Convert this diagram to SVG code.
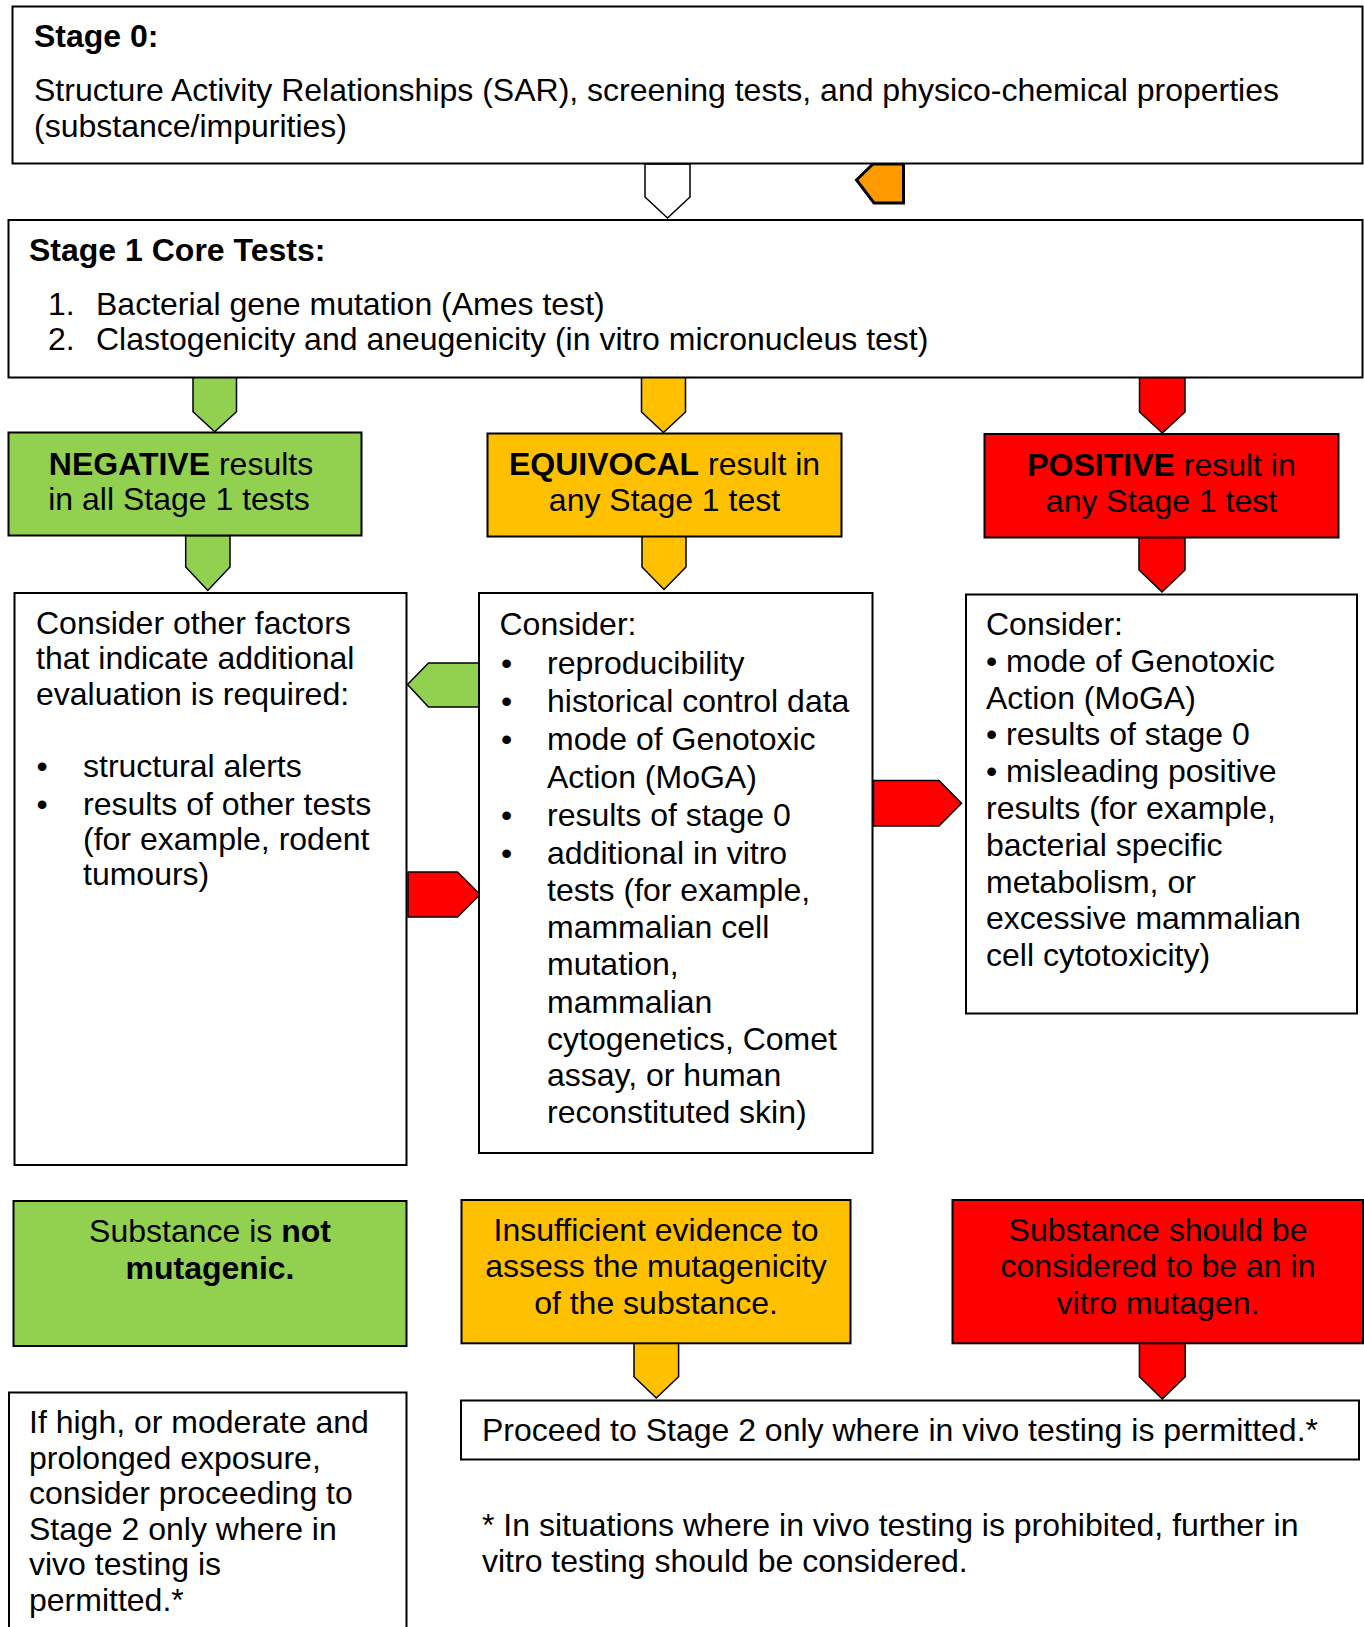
<svg xmlns="http://www.w3.org/2000/svg" width="1364" height="1627" viewBox="0 0 1364 1627">
<style>
.box{stroke:#000;stroke-width:2}
.w{fill:#fff}
.g{fill:#92D050}
.y{fill:#FFC000}
.r{fill:#FF0000}
.o{fill:#FF9900}
.arr{stroke:#000;stroke-width:1.5;stroke-linejoin:miter}
text{font-family:"Liberation Sans",Arial,Helvetica,sans-serif;font-size:32px;fill:#000}
.b{font-weight:bold}
.c{text-anchor:middle}
</style>
<rect width="1364" height="1627" fill="#fff"/>
<g id="connectors">
<polygon class="arr w" points="645,164 690,164 690,197 667.5,218 645,197"/>
<polygon class="o" points="856.5,180 873,164 903.5,164 903.5,203 874,203" stroke="#000" stroke-width="3" stroke-linejoin="miter"/>
<polygon class="arr g" points="193,377 236.5,377 236.5,411.7 214.7,431.7 193,411.7"/>
<polygon class="arr y" points="641.5,377 685.5,377 685.5,412 663.5,432.5 641.5,412"/>
<polygon class="arr r" points="1139.5,377 1185,377 1185,412 1162.3,433 1139.5,412"/>
<polygon class="arr g" points="185.7,535.5 230,535.5 230,567 207.8,590.5 185.7,567"/>
<polygon class="arr y" points="642,536.3 686,536.3 686,567 664,589.5 642,567"/>
<polygon class="arr r" points="1139,537.3 1185,537.3 1185,570 1162,592 1139,570"/>
<polygon class="arr g" points="407.5,684.5 428.5,663 479,663 479,707 428.5,707"/>
<polygon class="arr r" points="408,872 457.5,872 480,894.5 457.5,917 408,917"/>
<polygon class="arr r" points="873.5,780.5 939,780.5 961.5,803.3 939,826 873.5,826"/>
<polygon class="arr y" points="634,1343.3 678.6,1343.3 678.6,1376.7 656.3,1398 634,1376.7"/>
<polygon class="arr r" points="1139.4,1343.3 1185.2,1343.3 1185.2,1376.7 1162.3,1399 1139.4,1376.7"/>
</g>
<g id="stage0">
<rect class="box w" x="12.5" y="6.5" width="1350" height="157"/>
<text x="34" y="46.5" class="b">Stage 0:</text>
<text x="34" y="100.5">Structure Activity Relationships (SAR), screening tests, and physico-chemical properties</text>
<text x="34" y="136.5">(substance/impurities)</text>
</g>
<g id="stage1">
<rect class="box w" x="8.5" y="220" width="1354" height="157.5"/>
<text x="29" y="261" class="b">Stage 1 Core Tests:</text>
<text x="48" y="315">1.</text>
<text x="96" y="315">Bacterial gene mutation (Ames test)</text>
<text x="48" y="350">2.</text>
<text x="96" y="350">Clastogenicity and aneugenicity (in vitro micronucleus test)</text>
</g>
<g id="negative">
<rect class="box g" x="8.5" y="432.5" width="353" height="103"/>
<text x="181" y="474.5" class="c"><tspan class="b">NEGATIVE</tspan> results</text>
<text x="179" y="510" class="c">in all Stage 1 tests</text>
</g>
<g id="equivocal">
<rect class="box y" x="487.5" y="433.5" width="354" height="103"/>
<text x="664.5" y="475" class="c"><tspan class="b">EQUIVOCAL</tspan> result in</text>
<text x="664.5" y="510.5" class="c">any Stage 1 test</text>
</g>
<g id="positive">
<rect class="box r" x="984.5" y="434" width="354" height="103.5"/>
<text x="1161.5" y="475.5" class="c"><tspan class="b">POSITIVE</tspan> result in</text>
<text x="1161.5" y="511.5" class="c">any Stage 1 test</text>
</g>
<g id="consider-negative">
<rect class="box w" x="14.5" y="593" width="392" height="572"/>
<text x="36" y="634">Consider other factors</text>
<text x="36" y="669">that indicate additional</text>
<text x="36" y="704.5">evaluation is required:</text>
<text x="36.5" y="777">•</text>
<text x="83" y="777">structural alerts</text>
<text x="36.5" y="814.5">•</text>
<text x="83" y="814.5">results of other tests</text>
<text x="83" y="849.5">(for example, rodent</text>
<text x="83" y="885">tumours)</text>
</g>
<g id="consider-equivocal">
<rect class="box w" x="479" y="593" width="393.5" height="560"/>
<text x="499.5" y="634.5">Consider:</text>
<text x="501" y="674">•</text>
<text x="547" y="674">reproducibility</text>
<text x="501" y="712">•</text>
<text x="547" y="712">historical control data</text>
<text x="501" y="750">•</text>
<text x="547" y="750">mode of Genotoxic</text>
<text x="547" y="788">Action (MoGA)</text>
<text x="501" y="825.5">•</text>
<text x="547" y="825.5">results of stage 0</text>
<text x="501" y="863.5">•</text>
<text x="547" y="863.5">additional in vitro</text>
<text x="547" y="900.5">tests (for example,</text>
<text x="547" y="938">mammalian cell</text>
<text x="547" y="975">mutation,</text>
<text x="547" y="1012.5">mammalian</text>
<text x="547" y="1049.5">cytogenetics, Comet</text>
<text x="547" y="1086">assay, or human</text>
<text x="547" y="1123">reconstituted skin)</text>
</g>
<g id="consider-positive">
<rect class="box w" x="966" y="594.5" width="391" height="419" stroke-width="1.5"/>
<text x="986" y="635">Consider:</text>
<text x="986" y="671.8">• mode of Genotoxic</text>
<text x="986" y="708.6">Action (MoGA)</text>
<text x="986" y="745.4">• results of stage 0</text>
<text x="986" y="782.2">• misleading positive</text>
<text x="986" y="819">results (for example,</text>
<text x="986" y="855.8">bacterial specific</text>
<text x="986" y="892.6">metabolism, or</text>
<text x="986" y="929.4">excessive mammalian</text>
<text x="986" y="966.2">cell cytotoxicity)</text>
</g>
<g id="not-mutagenic">
<rect class="box g" x="13.5" y="1201" width="393" height="145"/>
<text x="210" y="1242" class="c">Substance is <tspan class="b">not</tspan></text>
<text x="210" y="1279" class="c b">mutagenic.</text>
</g>
<g id="insufficient">
<rect class="box y" x="461.5" y="1200" width="389" height="143.3"/>
<text x="656" y="1240.5" class="c">Insufficient evidence to</text>
<text x="656" y="1277" class="c">assess the mutagenicity</text>
<text x="656" y="1314" class="c">of the substance.</text>
</g>
<g id="in-vitro-mutagen">
<rect class="box r" x="952.5" y="1200" width="410.5" height="143.3"/>
<text x="1158" y="1240.5" class="c">Substance should be</text>
<text x="1158" y="1277" class="c">considered to be an in</text>
<text x="1158" y="1314" class="c">vitro mutagen.</text>
</g>
<g id="proceed-stage2">
<rect class="box w" x="461" y="1400.5" width="898" height="59"/>
<text x="482" y="1440.5">Proceed to Stage 2 only where in vivo testing is permitted.*</text>
</g>
<g id="exposure">
<rect class="box w" x="9" y="1392.5" width="397.5" height="260"/>
<text x="29" y="1433">If high, or moderate and</text>
<text x="29" y="1468.5">prolonged exposure,</text>
<text x="29" y="1504">consider proceeding to</text>
<text x="29" y="1539.5">Stage 2 only where in</text>
<text x="29" y="1575">vivo testing is</text>
<text x="29" y="1610.5">permitted.*</text>
</g>
<g id="footnote">
<text x="482" y="1536">* In situations where in vivo testing is prohibited, further in</text>
<text x="482" y="1571.5">vitro testing should be considered.</text>
</g>
</svg>
